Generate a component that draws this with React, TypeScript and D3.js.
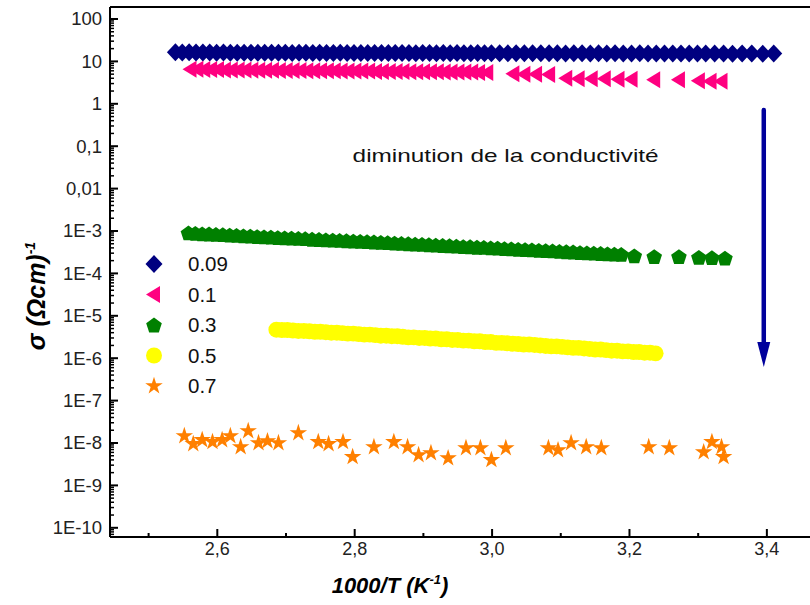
import React, { useRef, useEffect } from 'react'
import * as d3 from 'd3'

// axis ticks
const xMajor = [2.6, 2.8, 3.0, 3.2, 3.4]
const xMajorLabels = ['2,6', '2,8', '3,0', '3,2', '3,4']
const xMinor = [2.5, 2.7, 2.9, 3.1, 3.3]
const yMajor = [1e2, 1e1, 1, 1e-1, 1e-2, 1e-3, 1e-4, 1e-5, 1e-6, 1e-7, 1e-8, 1e-9, 1e-10]
const yMajorLabels = ['100', '10', '1', '0,1', '0,01', '1E-3', '1E-4', '1E-5', '1E-6', '1E-7', '1E-8', '1E-9', '1E-10']

// legend
const seriesNames = ['0.09', '0.1', '0.3', '0.5', '0.7']
const seriesColors = ['#000080', '#ff0080', '#008000', '#ffff00', '#ff8000']
const seriesShapes = ['diamond', 'triangle', 'pentagon', 'circle', 'star']

// x = 0.09
const x009 = [2.539, 2.549, 2.559, 2.569, 2.579, 2.589, 2.599, 2.609, 2.619, 2.629, 2.639, 2.649, 2.659, 2.669, 2.679, 2.689,
  2.699, 2.709, 2.719, 2.729, 2.739, 2.749, 2.759, 2.769, 2.779, 2.789, 2.799, 2.809, 2.819, 2.829, 2.839, 2.849, 2.859,
  2.869, 2.879, 2.889, 2.899, 2.909, 2.919, 2.929, 2.939, 2.949, 2.959, 2.969, 2.979, 2.989, 2.999,
  3.011, 3.023, 3.035, 3.047, 3.059, 3.071, 3.083, 3.095, 3.107, 3.119, 3.131, 3.143, 3.155, 3.167, 3.179, 3.191, 3.203,
  3.215, 3.227, 3.239, 3.251, 3.263, 3.275, 3.287, 3.299, 3.311, 3.324, 3.337, 3.350, 3.364, 3.378, 3.394, 3.410]
const y009 = [16.4, 16.3, 16.4, 16.2, 16.3, 16.2, 16.1, 16.2, 16.0, 16.1, 16.0, 16.1, 15.9, 16.0, 16.0, 15.9, 16.0, 15.8,
  15.9, 15.9, 15.8, 15.9, 15.8, 15.8, 15.9, 15.7, 15.8, 15.8, 15.7, 15.8, 15.7, 15.8, 15.7, 15.7, 15.8, 15.6, 15.7, 15.7,
  15.6, 15.7, 15.6, 15.7, 15.6, 15.6, 15.7, 15.5, 15.6, 15.6, 15.5, 15.6, 15.5, 15.6, 15.5, 15.5, 15.6, 15.4, 15.5, 15.5,
  15.4, 15.5, 15.4, 15.5, 15.4, 15.4, 15.5, 15.3, 15.4, 15.4, 15.3, 15.4, 15.3, 15.4, 15.3, 15.3, 15.4, 15.2, 15.3, 15.3,
  15.2, 15.3]

// x = 0.1
const x01 = [2.561, 2.571, 2.581, 2.591, 2.601, 2.611, 2.621, 2.631, 2.641, 2.651, 2.661, 2.671, 2.681, 2.691, 2.701,
  2.711, 2.721, 2.731, 2.741, 2.751, 2.761, 2.771, 2.781, 2.791, 2.801, 2.811, 2.821, 2.831, 2.841, 2.851, 2.861, 2.871,
  2.881, 2.891, 2.901, 2.911, 2.921, 2.931, 2.941, 2.951, 2.961, 2.971, 2.981, 2.993,
  3.031, 3.047, 3.064, 3.083, 3.108, 3.126, 3.145, 3.164, 3.184, 3.203, 3.236, 3.272, 3.301, 3.318, 3.334]
const y01 = [6.5, 6.5, 6.4, 6.4, 6.4, 6.3, 6.3, 6.3, 6.3, 6.2, 6.2, 6.2, 6.2, 6.1, 6.1, 6.1, 6.1, 6.0, 6.0, 6.0, 6.0, 6.0,
  5.9, 5.9, 5.9, 5.9, 5.9, 5.8, 5.8, 5.8, 5.8, 5.8, 5.7, 5.7, 5.7, 5.7, 5.7, 5.6, 5.6, 5.6, 5.6, 5.6, 5.5, 5.5,
  5.1, 5.0, 5.0, 4.9, 4.0, 3.9, 3.9, 3.9, 3.8, 3.8, 3.7, 3.7, 3.5, 3.4, 3.4]

// x = 0.3
const x03 = [2.558, 2.568, 2.578, 2.588, 2.598, 2.608, 2.618, 2.628, 2.638, 2.648, 2.658, 2.668, 2.678, 2.688, 2.698,
  2.708, 2.718, 2.728, 2.738, 2.748, 2.758, 2.768, 2.778, 2.788, 2.798, 2.808, 2.818, 2.828, 2.838, 2.848, 2.858, 2.868,
  2.878, 2.888, 2.898, 2.908, 2.918, 2.928, 2.938, 2.948, 2.958, 2.968, 2.978, 2.988, 2.998, 3.008, 3.018, 3.028, 3.038,
  3.048, 3.058, 3.068, 3.078, 3.088, 3.098, 3.108, 3.118, 3.128, 3.138, 3.148, 3.158, 3.168, 3.178, 3.188,
  3.207, 3.236, 3.272, 3.301, 3.320, 3.339]
const y03 = [9.0e-4, 8.8e-4, 8.6e-4, 8.5e-4, 8.3e-4, 8.2e-4, 8.0e-4, 7.9e-4, 7.7e-4, 7.6e-4, 7.4e-4, 7.3e-4, 7.2e-4,
  7.0e-4, 6.9e-4, 6.8e-4, 6.7e-4, 6.6e-4, 6.4e-4, 6.3e-4, 6.2e-4, 6.1e-4, 6.0e-4, 5.9e-4, 5.8e-4, 5.7e-4, 5.6e-4,
  5.5e-4, 5.4e-4, 5.3e-4, 5.2e-4, 5.1e-4, 5.0e-4, 4.9e-4, 4.85e-4, 4.75e-4, 4.65e-4, 4.55e-4, 4.5e-4, 4.4e-4, 4.3e-4,
  4.25e-4, 4.15e-4, 4.1e-4, 4.0e-4, 3.95e-4, 3.85e-4, 3.8e-4, 3.7e-4, 3.65e-4, 3.6e-4, 3.5e-4, 3.45e-4, 3.4e-4, 3.3e-4,
  3.25e-4, 3.2e-4, 3.1e-4, 3.05e-4, 3.0e-4, 2.95e-4, 2.9e-4, 2.85e-4, 2.8e-4,
  2.6e-4, 2.5e-4, 2.5e-4, 2.4e-4, 2.35e-4, 2.3e-4]

// x = 0.5
const x05 = [2.686, 2.694, 2.702, 2.710, 2.718, 2.726, 2.734, 2.742, 2.750, 2.758, 2.766, 2.774, 2.782, 2.790, 2.798,
  2.806, 2.814, 2.822, 2.830, 2.838, 2.846, 2.854, 2.862, 2.870, 2.878, 2.886, 2.894, 2.902, 2.910, 2.918, 2.926, 2.934,
  2.942, 2.950, 2.958, 2.966, 2.974, 2.982, 2.990, 2.998, 3.006, 3.014, 3.022, 3.030, 3.038, 3.046, 3.054, 3.062, 3.070,
  3.078, 3.086, 3.094, 3.102, 3.110, 3.118, 3.126, 3.134, 3.142, 3.150, 3.158, 3.166, 3.174, 3.182, 3.190, 3.198, 3.206,
  3.214, 3.222, 3.230, 3.238]
const y05 = [4.7e-6, 4.6e-6, 4.6e-6, 4.5e-6, 4.4e-6, 4.4e-6, 4.3e-6, 4.2e-6, 4.2e-6, 4.1e-6, 4.0e-6, 4.0e-6, 3.9e-6,
  3.8e-6, 3.8e-6, 3.7e-6, 3.6e-6, 3.6e-6, 3.5e-6, 3.4e-6, 3.4e-6, 3.3e-6, 3.3e-6, 3.2e-6, 3.1e-6, 3.1e-6, 3.0e-6,
  3.0e-6, 2.9e-6, 2.9e-6, 2.8e-6, 2.8e-6, 2.7e-6, 2.7e-6, 2.6e-6, 2.6e-6, 2.5e-6, 2.5e-6, 2.4e-6, 2.4e-6, 2.3e-6,
  2.3e-6, 2.25e-6, 2.2e-6, 2.15e-6, 2.1e-6, 2.1e-6, 2.05e-6, 2.0e-6, 1.95e-6, 1.9e-6, 1.9e-6, 1.85e-6, 1.8e-6, 1.75e-6,
  1.75e-6, 1.7e-6, 1.65e-6, 1.6e-6, 1.6e-6, 1.55e-6, 1.5e-6, 1.5e-6, 1.45e-6, 1.45e-6, 1.4e-6, 1.4e-6, 1.35e-6,
  1.35e-6, 1.3e-6]

// x = 0.7
const x07 = [2.552, 2.565, 2.578, 2.593, 2.607, 2.619, 2.634, 2.645, 2.660, 2.673, 2.689, 2.718, 2.747, 2.762, 2.783,
  2.797, 2.828, 2.857, 2.877, 2.893, 2.911, 2.936, 2.962, 2.983, 2.999, 3.020, 3.082, 3.096, 3.115, 3.137, 3.159, 3.228,
  3.258, 3.308, 3.320, 3.334, 3.337]
const y07 = [1.46e-8, 9.5e-9, 1.18e-8, 1.06e-8, 1.18e-8, 1.46e-8, 8.05e-9, 1.92e-8, 1.0e-8, 1.11e-8, 1.0e-8, 1.72e-8,
  1.06e-8, 9.5e-9, 1.06e-8, 4.7e-9, 8.05e-9, 1.06e-8, 8.05e-9, 5.2e-9, 5.8e-9, 4.4e-9, 7.6e-9, 7.6e-9, 4.0e-9, 7.6e-9,
  7.6e-9, 6.8e-9, 1.0e-8, 8.05e-9, 7.6e-9, 8.05e-9, 7.6e-9, 6.1e-9, 1.06e-8, 8.05e-9, 4.7e-9]

const seriesX = [x009, x01, x03, x05, x07]
const seriesY = [y009, y01, y03, y05, y07]

const W = 810
const H = 605

const shapePath = (kind: string): string => {
  if (kind === 'diamond') return 'M-8.5,0L0,-9L8.5,0L0,9Z'
  if (kind === 'triangle') return 'M-8,0L6,-8.5L6,8.5Z'
  if (kind === 'pentagon') {
    const pts = d3.range(5).map(k => {
      const a = -Math.PI / 2 + (k * 2 * Math.PI) / 5
      return [8.2 * Math.cos(a), 8.2 * Math.sin(a) + 0.8]
    })
    return 'M' + pts.map(p => p.join(',')).join('L') + 'Z'
  }
  if (kind === 'circle') return d3.symbol(d3.symbolCircle, 200)() as string
  return d3.symbol(d3.symbolStar, 95)() as string
}

const Chart = () => {
  const ref = useRef<SVGSVGElement>(null)

  useEffect(() => {
    const svg = d3.select(ref.current)
    svg.selectAll('*').remove()

    const left = 110, top = 7, bottom = 537, right = 812
    const x = d3.scaleLinear().domain([2.4438, 3.4657]).range([left, right])
    const y = d3.scaleLog().domain([Math.pow(10, -10.217), Math.pow(10, 2.283)]).range([bottom, top])

    const font = '"Liberation Sans", Arial, sans-serif'

    // data
    seriesX.forEach((xs, i) => {
      const pts = d3.zip(xs, seriesY[i])
      svg.append('g')
        .selectAll('path')
        .data(pts)
        .enter()
        .append('path')
        .attr('d', shapePath(seriesShapes[i]))
        .attr('fill', seriesColors[i])
        .attr('transform', d => 'translate(' + x(d[0]) + ',' + y(d[1]) + ')')
    })

    // frame
    svg.append('line').attr('x1', left).attr('x2', right).attr('y1', top).attr('y2', top)
      .attr('stroke', '#000').attr('stroke-width', 2)
    svg.append('line').attr('x1', left).attr('x2', right).attr('y1', bottom).attr('y2', bottom)
      .attr('stroke', '#000').attr('stroke-width', 2)
    svg.append('line').attr('x1', left).attr('x2', left).attr('y1', top).attr('y2', bottom)
      .attr('stroke', '#000').attr('stroke-width', 2)

    // x ticks
    svg.append('g').selectAll('line').data(xMajor).enter().append('line')
      .attr('x1', d => x(d)).attr('x2', d => x(d)).attr('y1', bottom).attr('y2', bottom - 8)
      .attr('stroke', '#000').attr('stroke-width', 2)
    svg.append('g').selectAll('line').data(xMinor).enter().append('line')
      .attr('x1', d => x(d)).attr('x2', d => x(d)).attr('y1', bottom).attr('y2', bottom - 4)
      .attr('stroke', '#000').attr('stroke-width', 2)
    svg.append('g').selectAll('text').data(xMajor).enter().append('text')
      .attr('x', d => x(d)).attr('y', bottom + 18)
      .attr('text-anchor', 'middle').attr('font-family', font).attr('font-size', 18).attr('fill', '#222')
      .text((d, i) => xMajorLabels[i])

    // y ticks
    const yMinor: number[] = []
    d3.range(-11, 3).forEach(p => {
      d3.range(2, 10).forEach(k => {
        const v = k * Math.pow(10, p)
        if (v > y.domain()[0] && v < y.domain()[1]) yMinor.push(v)
      })
    })
    svg.append('g').selectAll('line').data(yMajor).enter().append('line')
      .attr('x1', left).attr('x2', left + 8).attr('y1', d => y(d)).attr('y2', d => y(d))
      .attr('stroke', '#000').attr('stroke-width', 2)
    svg.append('g').selectAll('line').data(yMinor).enter().append('line')
      .attr('x1', left).attr('x2', left + 4).attr('y1', d => y(d)).attr('y2', d => y(d))
      .attr('stroke', '#000').attr('stroke-width', 1.5)
    svg.append('g').selectAll('text').data(yMajor).enter().append('text')
      .attr('x', 102).attr('y', d => y(d)).attr('dy', '0.35em')
      .attr('text-anchor', 'end').attr('font-family', font).attr('font-size', 18.5).attr('fill', '#222')
      .text((d, i) => yMajorLabels[i])

    // axis titles
    const xt = svg.append('text').attr('x', 390).attr('y', 593).attr('text-anchor', 'middle')
      .attr('font-family', font).attr('font-size', 22).attr('font-weight', 'bold').attr('font-style', 'italic')
    xt.append('tspan').text('1000/T (K')
    xt.append('tspan').attr('font-size', 13).attr('dy', -9).text('-1')
    xt.append('tspan').attr('dy', 9).text(')')

    const yt = svg.append('text').attr('transform', 'translate(45,296) rotate(-90)').attr('text-anchor', 'middle')
      .attr('font-family', font).attr('font-size', 25).attr('font-weight', 'bold').attr('font-style', 'italic')
    yt.append('tspan').text('σ (Ωcm)')
    yt.append('tspan').attr('font-size', 14).attr('dy', -10).text('-1')

    // legend
    const lg = svg.append('g').selectAll('g').data(seriesNames).enter().append('g')
      .attr('transform', (d, i) => 'translate(154,' + (264 + i * 30.5) + ')')
    lg.append('path').attr('d', (d, i) => shapePath(seriesShapes[i])).attr('fill', (d, i) => seriesColors[i])
    lg.append('text').attr('x', 34).attr('dy', '0.36em').attr('font-family', font).attr('font-size', 20.5)
      .attr('fill', '#111').text(d => d)

    // annotation
    svg.append('text').attr('x', x(2.797)).attr('y', y(0.062)).attr('dy', '0.35em')
      .attr('font-family', font).attr('font-size', 19).attr('fill', '#111')
      .attr('textLength', 306).attr('lengthAdjust', 'spacingAndGlyphs')
      .text('diminution de la conductivité')

    const ax = x(3.3955)
    const y1 = y(0.71)
    const y2 = y(6.2e-7)
    svg.append('line').attr('x1', ax).attr('x2', ax).attr('y1', y1).attr('y2', y2 - 20)
      .attr('stroke', '#00009c').attr('stroke-width', 4.5).attr('stroke-linecap', 'round')
    svg.append('path')
      .attr('d', 'M' + (ax - 6.5) + ',' + (y2 - 25) + 'L' + (ax + 6.5) + ',' + (y2 - 25) + 'L' + ax + ',' + y2 + 'Z')
      .attr('fill', '#00009c')
  }, [])

  return (
    <svg ref={ref} width={W} height={H} style={{ position: 'absolute', left: 0, top: 0, background: '#fff' }}></svg>
  )
}

export default function App() {
  return (
    <div className="chart">
      <Chart />
    </div>
  )
}
